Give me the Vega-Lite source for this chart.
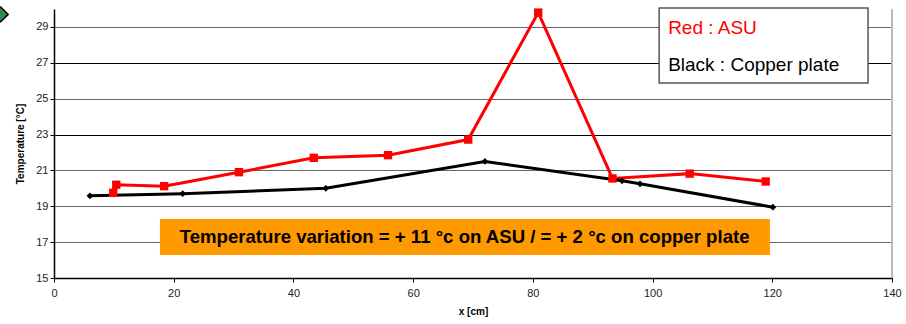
{
  "$schema": "https://vega.github.io/schema/vega-lite/v6.json",
  "width": 838,
  "height": 269,
  "autosize": "none",
  "padding": {"left": 54, "top": 9, "right": 14, "bottom": 46},
  "background": "white",
  "config": {
    "view": {"stroke": null},
    "font": "Liberation Sans"
  },
  "datasets": {
    "series": [
      {"series": "ASU", "order": 1, "x": 9.9, "t": 19.75},
      {"series": "ASU", "order": 2, "x": 10.4, "t": 20.2},
      {"series": "ASU", "order": 3, "x": 18.4, "t": 20.12},
      {"series": "ASU", "order": 4, "x": 30.9, "t": 20.9},
      {"series": "ASU", "order": 5, "x": 43.4, "t": 21.7},
      {"series": "ASU", "order": 6, "x": 55.8, "t": 21.85},
      {"series": "ASU", "order": 7, "x": 69.2, "t": 22.72},
      {"series": "ASU", "order": 8, "x": 80.9, "t": 29.8},
      {"series": "ASU", "order": 9, "x": 93.3, "t": 20.55},
      {"series": "ASU", "order": 10, "x": 106.2, "t": 20.82},
      {"series": "ASU", "order": 11, "x": 118.9, "t": 20.38},
      {"series": "Copper plate", "order": 1, "x": 6.0, "t": 19.58},
      {"series": "Copper plate", "order": 2, "x": 21.5, "t": 19.7},
      {"series": "Copper plate", "order": 3, "x": 45.4, "t": 20.0},
      {"series": "Copper plate", "order": 4, "x": 72.0, "t": 21.5},
      {"series": "Copper plate", "order": 5, "x": 94.9, "t": 20.42},
      {"series": "Copper plate", "order": 6, "x": 97.9, "t": 20.25},
      {"series": "Copper plate", "order": 7, "x": 120.1, "t": 18.95}
    ]
  },
  "layer": [
    {
      "data": {"values": [{"x": 0, "t": 15}]},
      "mark": {"type": "point", "opacity": 0},
      "encoding": {
        "x": {
          "field": "x", "type": "quantitative",
          "scale": {"domain": [0, 140], "nice": false, "zero": false},
          "axis": {
            "title": "x [cm]",
            "titleFontSize": 10, "titleFontWeight": "bold", "titleColor": "#000", "titlePadding": 8,
            "values": [0, 20, 40, 60, 80, 100, 120, 140], "tickCount": 20,
            "labelFontSize": 11, "labelColor": "#222", "labelPadding": 5, "labelOverlap": false,
            "tickSize": 4, "tickColor": "#000", "domainColor": "#000", "domainWidth": 1.5,
            "grid": false, "labelFlush": false
          }
        },
        "y": {
          "field": "t", "type": "quantitative",
          "scale": {"domain": [15, 30], "nice": false, "zero": false},
          "axis": {
            "title": "Temperature [°C]",
            "titleFontSize": 10, "titleFontWeight": "bold", "titleColor": "#000", "titlePadding": 10,
            "values": [15, 17, 19, 21, 23, 25, 27, 29], "tickCount": 20,
            "labelFontSize": 11, "labelColor": "#222", "labelPadding": 2, "labelOverlap": false,
            "tickSize": 4, "tickColor": "#000", "domainColor": "#000", "domainWidth": 1.5,
            "grid": true,
            "gridColor": {"condition": {"test": "datum.value == 27 || datum.value == 23", "value": "#000"}, "value": "#666"},
            "gridWidth": 1.2
          }
        }
      }
    },
    {
      "data": {"values": [{"x": 140, "y1": 15, "y2": 30}]},
      "mark": {"type": "rule", "color": "#bbbbbb", "strokeWidth": 2},
      "encoding": {
        "x": {"field": "x", "type": "quantitative"},
        "y": {"field": "y1", "type": "quantitative"},
        "y2": {"field": "y2"}
      }
    },
    {
      "data": {"values": [{"x1": 17.7, "x2": 119.6, "y1": 16.28, "y2": 18.29}]},
      "mark": {"type": "rect", "color": "#ff9900"},
      "encoding": {
        "x": {"field": "x1", "type": "quantitative"},
        "x2": {"field": "x2"},
        "y": {"field": "y1", "type": "quantitative"},
        "y2": {"field": "y2"}
      }
    },
    {
      "data": {"values": [{"x": 68.6, "t": 17.28, "label": "Temperature variation = + 11 °c on ASU / = + 2 °c on copper plate"}]},
      "mark": {"type": "text", "fontSize": 18.6, "fontWeight": "bold", "color": "#000", "align": "center", "baseline": "middle"},
      "encoding": {
        "x": {"field": "x", "type": "quantitative"},
        "y": {"field": "t", "type": "quantitative"},
        "text": {"field": "label"}
      }
    },
    {
      "data": {"values": [{"x1": 101.1, "x2": 136.0, "y1": 25.88, "y2": 30.06}]},
      "mark": {"type": "rect", "fill": "white", "stroke": "#555", "strokeWidth": 1.5},
      "encoding": {
        "x": {"field": "x1", "type": "quantitative"},
        "x2": {"field": "x2"},
        "y": {"field": "y1", "type": "quantitative"},
        "y2": {"field": "y2"}
      }
    },
    {
      "data": {"values": [
        {"x": 102.6, "t": 28.93, "label": "Red : ASU", "c": "red"},
        {"x": 102.6, "t": 26.85, "label": "Black : Copper plate", "c": "black"}
      ]},
      "mark": {"type": "text", "fontSize": 19, "align": "left", "baseline": "middle"},
      "encoding": {
        "x": {"field": "x", "type": "quantitative"},
        "y": {"field": "t", "type": "quantitative"},
        "text": {"field": "label"},
        "color": {"field": "c", "type": "nominal", "scale": {"domain": ["red", "black"], "range": ["#ff0000", "#000000"]}, "legend": null}
      }
    },
    {
      "data": {"name": "series"},
      "mark": {"type": "line", "strokeWidth": 3},
      "encoding": {
        "x": {"field": "x", "type": "quantitative"},
        "y": {"field": "t", "type": "quantitative"},
        "order": {"field": "order", "type": "quantitative"},
        "detail": {"field": "series"},
        "stroke": {"field": "series", "type": "nominal", "scale": {"domain": ["ASU", "Copper plate"], "range": ["#ff0000", "#000000"]}, "legend": null}
      }
    },
    {
      "data": {"name": "series"},
      "mark": {"type": "point", "filled": true, "opacity": 1},
      "encoding": {
        "x": {"field": "x", "type": "quantitative"},
        "y": {"field": "t", "type": "quantitative"},
        "fill": {"field": "series", "type": "nominal", "scale": {"domain": ["ASU", "Copper plate"], "range": ["#ff0000", "#000000"]}, "legend": null},
        "shape": {"field": "series", "type": "nominal", "scale": {"domain": ["ASU", "Copper plate"], "range": ["square", "diamond"]}, "legend": null},
        "size": {"field": "series", "type": "nominal", "scale": {"domain": ["ASU", "Copper plate"], "range": [70, 45]}, "legend": null}
      }
    },
    {
      "data": {"values": [{"x": -8.9, "t": 29.7}]},
      "mark": {"type": "point", "shape": "diamond", "filled": true, "fill": "#2e8b57", "stroke": "#000", "strokeWidth": 1.5, "size": 220, "opacity": 1},
      "encoding": {
        "x": {"field": "x", "type": "quantitative"},
        "y": {"field": "t", "type": "quantitative"}
      }
    }
  ]
}
